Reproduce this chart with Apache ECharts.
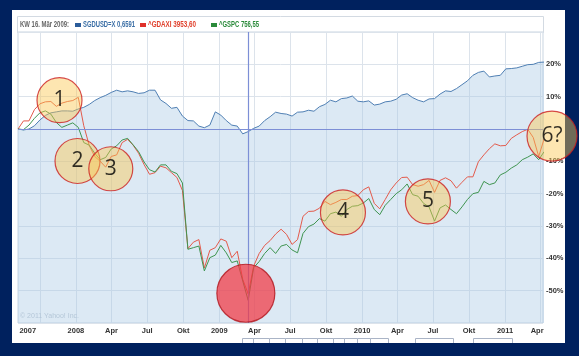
<!DOCTYPE html>
<html><head><meta charset="utf-8">
<script src="https://cdn.jsdelivr.net/npm/echarts@6/dist/echarts.min.js"></script>
<style>html,body{margin:0;padding:0;background:#00215e;}#c{width:579px;height:356px;}</style>
</head><body><div id="c"></div>
<script>
// ---- data (weekly-close chart, read every two weeks from the picture) ----
const startDate = [2007, 8, 6];   // first sample (y, m, d)
const stepDays = 14;
const sgdusd = [0,-0.3,0,1.0,2.8,4.2,5.0,5.3,5.6,5.6,5.5,6.2,6.7,7.6,8.8,9.7,10.4,11.3,12,11.5,11.8,11.5,11,11.2,12,12,9,7.9,6.4,6.7,4.0,2.6,2.5,0.9,0.4,1.2,5.3,4.3,2.6,1.2,0.9,-1.5,-0.8,0.2,0.9,2.6,3.8,5.2,4.8,4.6,4.0,5.2,5.3,5.8,5.5,6.9,7.6,8.9,8.4,9.4,9.6,10.2,8.6,8.4,8.7,7.4,7.7,8.4,8.6,9.2,10.5,10.9,9.7,8.9,8.4,9.3,9.4,10.8,11.8,11.6,12.5,13.7,14.9,16.6,17.5,17.9,16.1,16.4,16.6,18.6,18.7,18.9,19.4,19.9,20,20.6,20.7];
const gdaxi = [0,2.5,2.5,6,7.8,8.4,8.5,7,8,8.5,8.8,9.8,
  1,-5.1,-8.5,-10,-11.8,-8.5,-8,-4.2,-3.2,-5,-7.5,-11,-14,-13.5,-11.5,-12,-13.5,-15,-19,
  -37,-35,-34.2,-43,-37.5,-36.7,-34,-34.7,-39.8,-37.8,-46.5,-51,-42.4,-38.5,-36,-34.5,-32.5,
  -31,-32.6,-35.7,-34.2,-27,-25.5,-25.4,-24.5,-22.4,-23.4,-22.7,-21.8,-21.8,-20.8,-20.6,-18.8,-17.9,-23,-24.7,-21.8,-18.8,-16.7,-15,-14.9,
  -17.2,-17.7,-17.2,-15.9,-19.6,-15.9,-15.1,-16,-18.3,-16.5,-14.8,-14.8,-10.1,-8,-6.1,-4.6,-5.2,-5.1,-2.9,-1.8,-0.8,-0.1,-2.6,-8.5,-3];
const gspc = [0,-0.2,1.2,3.3,5.0,5.6,4.6,2,0.5,1.2,1.9,0.5,
  -4.2,-5,-7.5,-9.5,-8.8,-6.2,-5.2,-3.4,-2.9,-4.9,-7,-10.2,-12.6,-13.3,-11.1,-11.1,-13.1,-13.8,-16.7,
  -37.2,-36.7,-36.2,-43.9,-39.8,-39,-36,-38.3,-41.3,-40.8,-47,-53,-42.9,-41,-38.5,-36.7,-38.5,
  -36.2,-35.7,-37.4,-38.3,-32.3,-30.2,-29.4,-27.7,-28.5,-26.2,-25.7,-27,-24.9,-23.9,-23.7,-22.9,-21.5,-24.9,-26.5,-23.6,-21.8,-20,-18.8,-17,
  -20.3,-20.8,-23,-24.1,-28.5,-24.4,-23.5,-24.9,-26.2,-24.1,-21.8,-20,-19.6,-16.2,-17.2,-16.7,-14.2,-13.4,-12.1,-11.1,-9.5,-8.7,-7.7,-9.5,-7];

const axisMin = '2007-08-06';
const axisMax = '2011-04-08';
const tickDates = ['2007-10-01','2008-01-01','2008-04-01','2008-07-01','2008-10-01','2009-01-01','2009-04-01','2009-07-01','2009-10-01','2010-01-01','2010-04-01','2010-07-01','2010-10-01','2011-01-01','2011-04-01'];
const labelDates = ['2007-08-31','2008-01-01','2008-04-01','2008-07-01','2008-10-01','2009-01-01','2009-04-01','2009-07-01','2009-10-01','2010-01-01','2010-04-01','2010-07-01','2010-10-01','2011-01-01','2011-03-24'];
const labelTexts = ['2007','2008','Apr','Jul','Okt','2009','Apr','Jul','Okt','2010','Apr','Jul','Okt','2011','Apr'];
const yShown = [20,10,-10,-20,-30,-40,-50];

const crossDate = '2009-03-16';
const headerText = 'KW 16. Mär 2009:';
const legendNames = ['SGDUSD=X 0,6591','^GDAXI 3953,60','^GSPC 756,55'];

const noteLabels = ['1','2','3','4','5','6?'];
const noteDates = ['2007-11-20','2008-01-05','2008-03-30','2009-11-13','2010-06-18','2011-05-01'];
const noteValues = [8.9,-9.9,-12.3,-25.8,-22.4,-2.2];
const lossDate = '2009-03-10';
const lossValue = -50.8;

// ---- helpers ----
function ts(s){const p=s.split('-').map(Number);return new Date(p[0],p[1]-1,p[2]).getTime();}
const dates = sgdusd.map((_,i)=>new Date(startDate[0],startDate[1]-1,startDate[2]+stepDays*i).getTime());
const zip = arr => arr.map((v,i)=>[dates[i],v]);
const labelMap = {}; labelDates.forEach((d,i)=>{labelMap[ts(d)]=labelTexts[i];});

const C = {blue:'#4f7fb3', red:'#e35a4b', green:'#3f9450', grid:'#dce3eb', axisText:'#333'};
const axisFont = "'Liberation Sans',Arial,sans-serif";
const headFont = "bold 8.5px 'Liberation Sans',Arial,sans-serif";
const noteSizes = [45,45,44,45,45,50];

// condensed header text: fit each string to the width it takes in the reference
const mctx = document.createElement('canvas').getContext('2d');
mctx.font = headFont;
function headText(x, text, width, fill){
  const w = mctx.measureText(text).width || width;
  return {type:'text', z:50, x:x, y:25, scaleX:width/w, style:{text:text, fill:fill, font:headFont, verticalAlign:'middle'}};
}

const chart = echarts.init(document.getElementById('c'), null, {renderer:'canvas'});
chart.setOption({
  animation:false,
  backgroundColor:'#00215e',
  grid:{left:18,right:36,top:32,bottom:33,show:true,borderColor:'#c9d5e1',borderWidth:1,backgroundColor:'rgba(0,0,0,0)'},
  xAxis:{
    type:'value', min:ts(axisMin), max:ts(axisMax), scale:true,
    axisLine:{show:false},
    axisTick:{show:false, customValues:tickDates.map(ts)},
    splitLine:{show:true,lineStyle:{color:C.grid,width:1}},
    axisLabel:{customValues:labelDates.map(ts), formatter:v=>labelMap[v]||'', color:C.axisText,
      fontSize:7.5, fontWeight:'bold', fontFamily:axisFont, margin:4, hideOverlap:false, showMinLabel:true, showMaxLabel:true}
  },
  yAxis:{
    type:'value', position:'right', min:-60, max:30, interval:10,
    axisLine:{show:false}, axisTick:{show:false},
    splitLine:{show:true,lineStyle:{color:C.grid,width:1}},
    axisLabel:{formatter:v=>yShown.indexOf(v)>=0?v+'%':'', color:C.axisText, fontSize:7.5, fontWeight:'bold', fontFamily:axisFont, margin:3}
  },
  series:[
    {type:'line', name:'SGDUSD', data:zip(sgdusd), symbol:'none', z:2,
      lineStyle:{color:C.blue,width:1}, areaStyle:{color:'rgba(168,202,228,0.58)',origin:'start'},
      emphasis:{disabled:true},
      markLine:{silent:true, symbol:['none','none'], label:{show:false}, animation:false,
        lineStyle:{color:'#7d8fd6',width:1.2,type:'solid'},
        emphasis:{disabled:true},
        data:[{yAxis:0},{xAxis:ts(crossDate)}]}},
    {type:'line', name:'GDAXI', data:zip(gdaxi), symbol:'none', z:3, lineStyle:{color:C.red,width:1}, emphasis:{disabled:true}},
    {type:'line', name:'GSPC', data:zip(gspc), symbol:'none', z:3, lineStyle:{color:C.green,width:1}, emphasis:{disabled:true}},
    {type:'scatter', name:'notes', clip:false, z:6, silent:true,
      data:noteLabels.map((l,i)=>({name:l, value:[ts(noteDates[i]),noteValues[i]], symbolSize:noteSizes[i]})),
      itemStyle:{color:'rgba(250,200,80,0.56)',borderColor:'#cc1f1f',borderWidth:1.2},
      label:{show:true,position:'inside',formatter:'{b}',fontSize:21,color:'#000',fontFamily:"'Open Sans',sans-serif"},
      emphasis:{disabled:true}},
    {type:'scatter', name:'loss', clip:false, z:7, silent:true,
      data:[[ts(lossDate),lossValue]], symbolSize:58,
      itemStyle:{color:'rgba(243,56,66,0.9)',borderColor:'#b01018',borderWidth:1.2},
      emphasis:{disabled:true}}
  ],
  graphic:[
    {type:'rect', z:-10, silent:true, shape:{x:12,y:10,width:553,height:333}, style:{fill:'#fff'}},
    {type:'rect', z:-9, silent:true, shape:{x:17.5,y:16.5,width:526,height:16}, style:{fill:'#fff',stroke:'#d3dae2',lineWidth:1}},
    headText(20, headerText, 49, '#666'),
    {type:'rect', z:50, shape:{x:75,y:23,width:6,height:4}, style:{fill:'#2b5c9a'}},
    headText(83, legendNames[0], 52, '#3a6ea5'),
    {type:'rect', z:50, shape:{x:140,y:23,width:6,height:4}, style:{fill:'#e0302a'}},
    headText(148, legendNames[1], 48, '#e0402c'),
    {type:'rect', z:50, shape:{x:211,y:23,width:6,height:4}, style:{fill:'#2a8a3a'}},
    headText(219, legendNames[2], 40, '#2a8a3a'),
    {type:'text', z:50, x:20, y:316, style:{text:'© 2011 Yahoo! Inc.', fill:'#b5c7d8', font:"7px sans-serif", verticalAlign:'middle'}},
    {type:'group', z:50, children:[242,253,269,285,302,317,333,344,357,370].map((x,i,a)=>({
      type:'rect', shape:{x:x+0.5,y:338.5,width:(i<a.length-1?a[i+1]:388)-x,height:6}, style:{fill:'#fff',stroke:'#aab4c6',lineWidth:1}}))
      .concat([
        {type:'rect', shape:{x:415.5,y:338.5,width:38,height:6}, style:{fill:'#fff',stroke:'#aab4c6',lineWidth:1}},
        {type:'rect', shape:{x:473.5,y:338.5,width:39,height:6}, style:{fill:'#fff',stroke:'#aab4c6',lineWidth:1}}
      ])},
    {type:'rect', z:60, silent:true, shape:{x:0,y:343,width:579,height:13}, style:{fill:'#00215e'}}
  ]
});
</script></body></html>
